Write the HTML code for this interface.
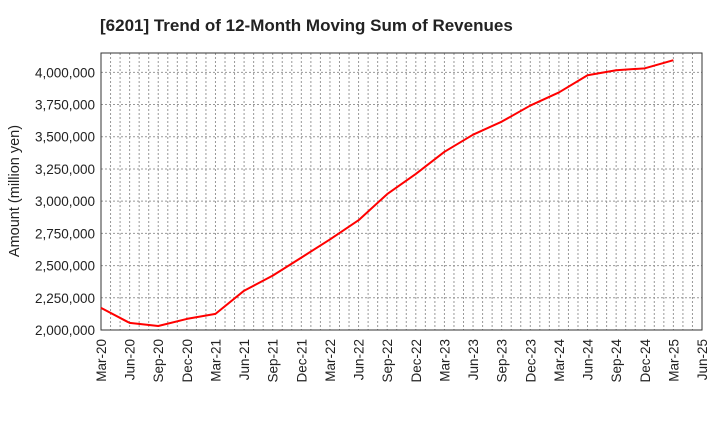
<!DOCTYPE html>
<html><head><meta charset="utf-8"><style>
body{margin:0;background:#fff;font-family:"Liberation Sans",sans-serif;}
svg{display:block}
</style></head><body>
<svg id="chart" width="720" height="440" xmlns="http://www.w3.org/2000/svg">
<text x="100" y="31" font-size="17" font-weight="bold" fill="#222">[6201]  Trend of 12-Month Moving Sum of Revenues</text>
<text transform="translate(19,191) rotate(-90)" text-anchor="middle" font-size="14.5" fill="#222">Amount (million yen)</text>
<g id="grid"></g><g id="axes"></g><g id="series"></g>
</svg>
<script>
const categories=["Mar-20","Jun-20","Sep-20","Dec-20","Mar-21","Jun-21","Sep-21","Dec-21","Mar-22","Jun-22","Sep-22","Dec-22","Mar-23","Jun-23","Sep-23","Dec-23","Mar-24","Jun-24","Sep-24","Dec-24","Mar-25","Jun-25"];
const revenues=[2172000,2055000,2031000,2086000,2125000,2305000,2422000,2562000,2703000,2852000,3055000,3211000,3383000,3516000,3617000,3742000,3844000,3977000,4016000,4031000,4094000];
const yTicks=[2000000,2250000,2500000,2750000,3000000,3250000,3500000,3750000,4000000];
const ns="http://www.w3.org/2000/svg";
const L=101,R=702,T=53,B=330,yMin=2000000,yMax=4150000;
const n=categories.length-1;
const xq=i=>L+(R-L)*i/n;
const y=v=>B-(v-yMin)/(yMax-yMin)*(B-T);
function mk(tag,attrs,parent){const e=document.createElementNS(ns,tag);for(const k in attrs)e.setAttribute(k,attrs[k]);parent.appendChild(e);return e;}
const grid=document.getElementById('grid'),axes=document.getElementById('axes'),series=document.getElementById('series');
for(let m=1;m<n*3;m++){const gx=L+(R-L)*m/(n*3);
const l=mk('line',{x1:gx,x2:gx,y1:T,y2:B,stroke:'#999','stroke-dasharray':'2,2','stroke-width':1},grid);

}
yTicks.forEach(v=>{const gy=y(v);
const l=mk('line',{x1:L,x2:R,y1:gy,y2:gy,stroke:'#999','stroke-dasharray':'2,2','stroke-width':1},grid);


const t=mk('text',{x:L-6,y:gy+5,'text-anchor':'end','font-size':13.5,fill:'#222'},axes);t.textContent=v.toLocaleString('en-US');

});
categories.forEach((c,i)=>{const cx=xq(i);
const t=mk('text',{transform:`translate(${cx+5},${B+9}) rotate(-90)`,'text-anchor':'end','font-size':13.5,fill:'#222'},axes);t.textContent=c;

});
const fr=mk('rect',{x:L,y:T,width:R-L,height:B-T,fill:'none',stroke:'#333','stroke-width':1},axes);


const pl=mk('polyline',{points:revenues.map((v,i)=>xq(i)+','+y(v)).join(' '),fill:'none',stroke:'#ff0000','stroke-width':2,'stroke-linejoin':'round'},series);


</script>
</body></html>
